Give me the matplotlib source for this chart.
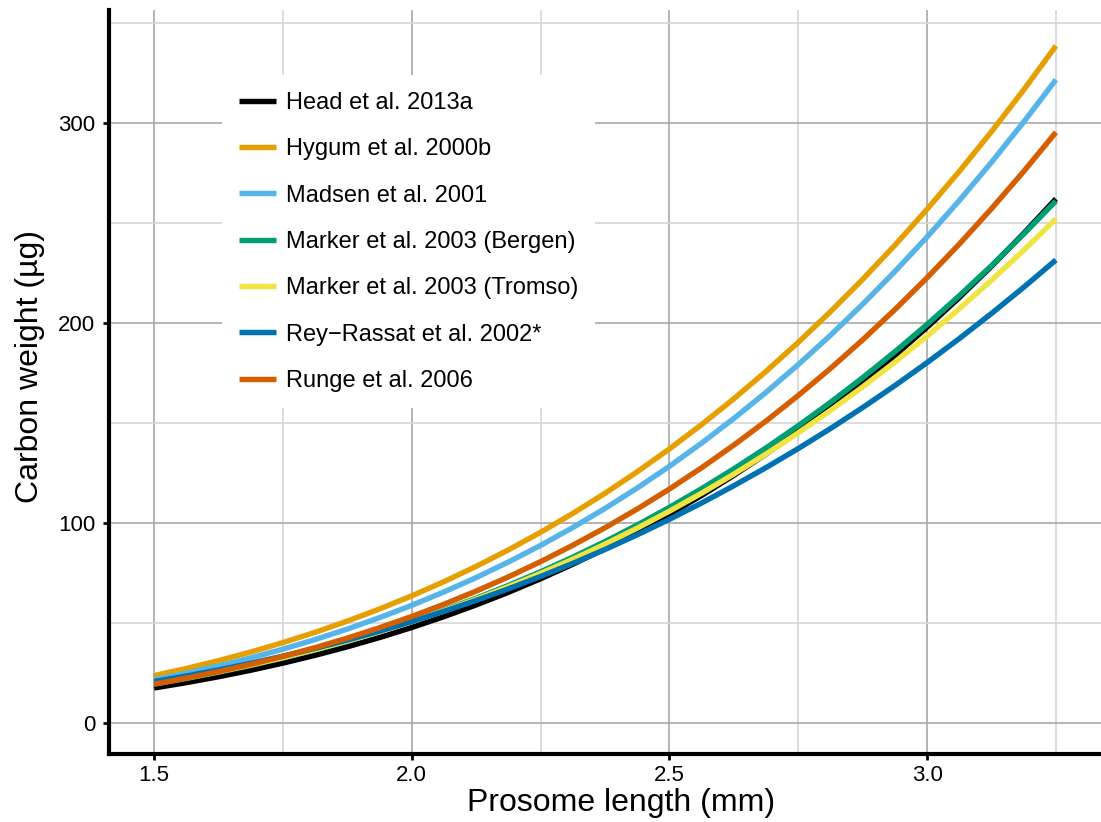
import numpy as np
import matplotlib
matplotlib.use("Agg")
import matplotlib.pyplot as plt
from matplotlib.ticker import MultipleLocator

plt.rcParams['font.family'] = ['Liberation Sans', 'DejaVu Sans']

# prosome length (mm) where each regression was evaluated
length = [1.5, 1.5625, 1.625, 1.6875, 1.75, 1.8125, 1.875, 1.9375, 2.0, 2.0625,
          2.125, 2.1875, 2.25, 2.3125, 2.375, 2.4375, 2.5, 2.5625, 2.625, 2.6875,
          2.75, 2.8125, 2.875, 2.9375, 3.0, 3.0625, 3.125, 3.1875, 3.25]

# carbon weight (ug) per length-weight regression
head = [17.30, 19.97, 22.92, 26.17, 29.74, 33.64, 37.90, 42.53, 47.56, 52.99,
        58.85, 65.17, 71.95, 79.22, 87.01, 95.32, 104.19, 113.64, 123.69, 134.35,
        145.66, 157.63, 170.29, 183.66, 197.77, 212.64, 228.29, 244.75, 262.03]
hygum = [23.50, 27.05, 30.97, 35.28, 40.00, 45.15, 50.75, 56.83, 63.40, 70.50,
         78.15, 86.37, 95.19, 104.63, 114.71, 125.46, 136.91, 149.09, 162.01, 175.71,
         190.22, 205.56, 221.75, 238.83, 256.82, 275.75, 295.65, 316.57, 338.53]
madsen = [21.40, 24.69, 28.33, 32.34, 36.73, 41.54, 46.78, 52.48, 58.66, 65.34,
          72.54, 80.30, 88.64, 97.57, 107.13, 117.34, 128.23, 139.82, 152.15, 165.23,
          179.09, 193.77, 209.29, 225.67, 242.95, 261.16, 280.32, 300.47, 321.64]
bergen = [19.20, 22.04, 25.16, 28.57, 32.30, 36.36, 40.77, 45.55, 50.70, 56.25,
          62.21, 68.60, 75.44, 82.75, 90.54, 98.84, 107.66, 117.02, 126.93, 137.42,
          148.50, 160.20, 172.54, 185.53, 199.19, 213.55, 228.62, 244.42, 260.98]
tromso = [19.50, 22.32, 25.41, 28.79, 32.48, 36.48, 40.81, 45.49, 50.53, 55.94,
          61.75, 67.97, 74.62, 81.70, 89.24, 97.25, 105.75, 114.75, 124.28, 134.34,
          144.96, 156.16, 167.94, 180.33, 193.34, 206.99, 221.30, 236.29, 251.98]
rey = [20.50, 23.30, 26.35, 29.66, 33.24, 37.10, 41.26, 45.73, 50.52, 55.63,
       61.09, 66.90, 73.08, 79.64, 86.58, 93.92, 101.68, 109.87, 118.49, 127.56,
       137.09, 147.10, 157.59, 168.58, 180.09, 192.11, 204.67, 217.78, 231.45]
runge = [19.20, 22.18, 25.48, 29.12, 33.11, 37.48, 42.25, 47.44, 53.08, 59.18,
         65.77, 72.87, 80.50, 88.69, 97.45, 106.83, 116.83, 127.49, 138.82, 150.86,
         163.63, 177.16, 191.47, 206.60, 222.56, 239.39, 257.11, 275.75, 295.34]

labels = ["Head et al. 2013a", "Hygum et al. 2000b", "Madsen et al. 2001",
          "Marker et al. 2003 (Bergen)", "Marker et al. 2003 (Tromso)",
          "Rey\u2212Rassat et al. 2002*", "Runge et al. 2006"]
series = [head, hygum, madsen, bergen, tromso, rey, runge]
colors = ["#000000", "#E69F00", "#56B4E9", "#009E73", "#F0E442", "#0072B2", "#D55E00"]

fig = plt.figure(figsize=(11.01, 8.22), dpi=100)
ax = fig.add_axes([0.099, 0.0833, 0.901, 0.9045])

for y, c, lab in zip(series, colors, labels):
    ax.plot(length, y, color=c, lw=3.9, label=lab, solid_capstyle='butt', zorder=3)

ax.set_xlim(1.4125, 3.3375)
ax.set_ylim(-15.5, 356.5)
ax.xaxis.set_minor_locator(MultipleLocator(0.25))
ax.yaxis.set_major_locator(MultipleLocator(100))
ax.yaxis.set_minor_locator(MultipleLocator(50))
ax.set_xticks([1.5, 2.0, 2.5, 3.0])
ax.set_xticklabels(["1.5", "2.0", "2.5", "3.0"])

ax.grid(which='major', color='#a8a8a8', lw=1.2, zorder=0)
ax.grid(which='minor', color='#d6d6d6', lw=1.2, zorder=0)
ax.set_axisbelow(True)

for s in ['top', 'right']:
    ax.spines[s].set_visible(False)
for s in ['left', 'bottom']:
    ax.spines[s].set_linewidth(3.0)
    ax.spines[s].set_color('black')

ax.tick_params(which='major', length=4.5, width=2, color='black', labelsize=16)
ax.tick_params(axis='y', pad=5.5)
ax.tick_params(axis='x', pad=4)
ax.tick_params(which='minor', length=0)

ax.set_xlabel("Prosome length (mm)", fontsize=23, va='center')
ax.set_ylabel("Carbon weight (\u00b5g)", fontsize=23, va='center')
ax.xaxis.set_label_coords(0.516, -0.0666)
ax.yaxis.set_label_coords(-0.0796, 0.52)

leg = ax.legend(loc='upper left', bbox_to_anchor=(0.114, 0.912), fontsize=17,
                frameon=True, fancybox=False, facecolor='white', edgecolor='none',
                framealpha=1, handlelength=1.57, handletextpad=0.42,
                labelspacing=1.03, borderpad=0.7, borderaxespad=0)
for h in leg.get_lines():
    h.set_linewidth(3.9)

fig.savefig("out.png", dpi=100)
